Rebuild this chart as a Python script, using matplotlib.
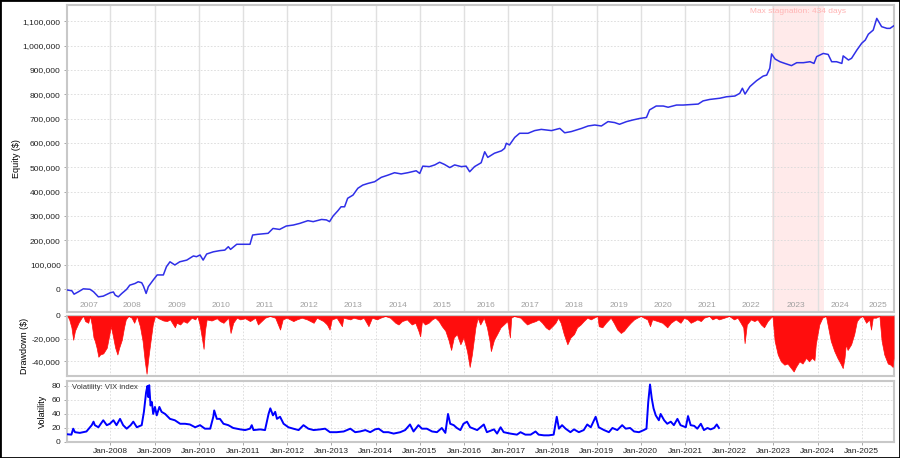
import matplotlib
matplotlib.use("Agg")
import matplotlib.pyplot as plt
from matplotlib.patches import Rectangle
from matplotlib.ticker import FuncFormatter, MultipleLocator

plt.rcParams["font.family"] = ["Liberation Sans", "DejaVu Sans"]

# equity curve, decimal years / thousands of $
eq_year = [2007.03, 2007.13, 2007.18, 2007.28, 2007.39, 2007.54, 2007.62, 2007.73, 2007.84, 2008.00,
           2008.07, 2008.11, 2008.18, 2008.26, 2008.37, 2008.44, 2008.56, 2008.63, 2008.71, 2008.75,
           2008.81, 2008.86, 2008.97, 2009.06, 2009.20, 2009.27, 2009.35, 2009.46, 2009.57, 2009.73,
           2009.88, 2009.95, 2010.03, 2010.10, 2010.18, 2010.33, 2010.48, 2010.59, 2010.67, 2010.72,
           2010.86, 2011.01, 2011.16, 2011.22, 2011.34, 2011.57, 2011.68, 2011.83, 2011.98, 2012.14,
           2012.29, 2012.47, 2012.59, 2012.78, 2012.89, 2012.96, 2013.04, 2013.15, 2013.22, 2013.30,
           2013.37, 2013.49, 2013.60, 2013.71, 2013.83, 2013.98, 2014.13, 2014.28, 2014.43, 2014.58,
           2014.73, 2014.92, 2015.00, 2015.07, 2015.22, 2015.34, 2015.45, 2015.56, 2015.68, 2015.79,
           2015.94, 2016.05, 2016.13, 2016.24, 2016.39, 2016.47, 2016.54, 2016.69, 2016.85, 2016.92,
           2016.96, 2017.03, 2017.15, 2017.26, 2017.45, 2017.60, 2017.75, 2017.98, 2018.17, 2018.28,
           2018.43, 2018.66, 2018.81, 2018.96, 2019.11, 2019.26, 2019.41, 2019.52, 2019.68, 2019.83,
           2019.98, 2020.13, 2020.20, 2020.35, 2020.51, 2020.62, 2020.81, 2020.96, 2021.19, 2021.30,
           2021.41, 2021.56, 2021.79, 2021.94, 2022.13, 2022.24, 2022.30, 2022.36, 2022.47, 2022.62,
           2022.77, 2022.85, 2022.92, 2022.96, 2023.04, 2023.15, 2023.26, 2023.41, 2023.53, 2023.68,
           2023.83, 2023.92, 2023.98, 2024.13, 2024.24, 2024.32, 2024.43, 2024.55, 2024.58, 2024.70,
           2024.77, 2024.89, 2025.00, 2025.08, 2025.15, 2025.26, 2025.34, 2025.45, 2025.57, 2025.64,
           2025.72]
eq_k = [-4, -7, -21, -11, 1, -1, -11, -32, -29, -15,
        -12, -25, -32, -18, -1, 16, 23, 30, 26, 12,
        -18, 10, 37, 58, 58, 92, 112, 99, 112, 119,
        136, 133, 140, 119, 144, 153, 158, 160, 174, 163,
        184, 184, 184, 222, 225, 229, 249, 245, 259, 263,
        270, 281, 277, 286, 284, 277, 300, 322, 338, 338,
        373, 386, 414, 427, 434, 441, 459, 468, 478, 473,
        478, 486, 475, 505, 503, 510, 521, 512, 499, 510,
        503, 505, 482, 503, 519, 564, 541, 558, 568, 578,
        599, 592, 623, 640, 640, 651, 656, 651, 660, 642,
        647, 660, 670, 674, 670, 688, 684, 677, 688, 695,
        701, 705, 736, 752, 752, 747, 756, 756, 759, 760,
        773, 779, 784, 790, 793, 804, 825, 801, 832, 856,
        875, 879, 907, 966, 945, 934, 927, 918, 930, 930,
        934, 927, 955, 968, 964, 934, 934, 927, 958, 941,
        948, 982, 1010, 1023, 1047, 1064, 1112, 1078, 1071, 1071,
        1081]

# drawdown, thousands of $
dd_year = [2007.03, 2007.07, 2007.12, 2007.16, 2007.20, 2007.28, 2007.35, 2007.39, 2007.43, 2007.50,
           2007.54, 2007.58, 2007.62, 2007.65, 2007.69, 2007.73, 2007.77, 2007.84, 2007.92, 2007.98,
           2008.01, 2008.05, 2008.11, 2008.16, 2008.20, 2008.26, 2008.31, 2008.35, 2008.41, 2008.48,
           2008.54, 2008.60, 2008.67, 2008.73, 2008.78, 2008.82, 2008.86, 2008.91, 2008.96, 2009.01,
           2009.09, 2009.20, 2009.28, 2009.35, 2009.46, 2009.50, 2009.58, 2009.65, 2009.73, 2009.84,
           2009.92, 2009.97, 2010.02, 2010.07, 2010.11, 2010.14, 2010.18, 2010.29, 2010.41, 2010.48,
           2010.56, 2010.67, 2010.72, 2010.78, 2010.86, 2010.94, 2011.05, 2011.16, 2011.28, 2011.34,
           2011.42, 2011.50, 2011.61, 2011.73, 2011.84, 2011.90, 2011.99, 2012.14, 2012.22, 2012.33,
           2012.45, 2012.60, 2012.67, 2012.82, 2012.90, 2012.96, 2013.01, 2013.12, 2013.24, 2013.27,
           2013.43, 2013.50, 2013.65, 2013.73, 2013.84, 2013.92, 2014.03, 2014.11, 2014.22, 2014.33,
           2014.45, 2014.52, 2014.60, 2014.71, 2014.82, 2014.90, 2014.97, 2015.01, 2015.05, 2015.12,
           2015.20, 2015.28, 2015.35, 2015.43, 2015.50, 2015.58, 2015.65, 2015.71, 2015.77, 2015.84,
           2015.92, 2015.99, 2016.07, 2016.13, 2016.18, 2016.22, 2016.26, 2016.31, 2016.37, 2016.45,
           2016.52, 2016.58, 2016.61, 2016.68, 2016.75, 2016.83, 2016.90, 2016.98, 2017.04, 2017.07,
           2017.13, 2017.28, 2017.35, 2017.43, 2017.51, 2017.62, 2017.69, 2017.77, 2017.85, 2017.92,
           2018.00, 2018.07, 2018.13, 2018.19, 2018.26, 2018.34, 2018.41, 2018.49, 2018.56, 2018.64,
           2018.71, 2018.79, 2018.87, 2018.94, 2019.02, 2019.05, 2019.13, 2019.21, 2019.32, 2019.39,
           2019.47, 2019.55, 2019.62, 2019.70, 2019.77, 2019.85, 2019.92, 2020.00, 2020.07, 2020.15,
           2020.21, 2020.26, 2020.38, 2020.49, 2020.60, 2020.68, 2020.79, 2020.90, 2020.98, 2021.06,
           2021.13, 2021.21, 2021.28, 2021.36, 2021.43, 2021.55, 2021.62, 2021.70, 2021.77, 2021.89,
           2022.00, 2022.11, 2022.19, 2022.26, 2022.32, 2022.35, 2022.40, 2022.49, 2022.57, 2022.64,
           2022.72, 2022.79, 2022.87, 2022.94, 2022.98, 2023.03, 2023.10, 2023.17, 2023.25, 2023.32,
           2023.40, 2023.46, 2023.51, 2023.59, 2023.66, 2023.74, 2023.81, 2023.87, 2023.93, 2023.96,
           2024.00, 2024.04, 2024.11, 2024.19, 2024.24, 2024.30, 2024.38, 2024.45, 2024.52, 2024.57,
           2024.61, 2024.64, 2024.68, 2024.76, 2024.83, 2024.89, 2024.95, 2025.02, 2025.10, 2025.17,
           2025.21, 2025.25, 2025.32, 2025.40, 2025.45, 2025.51, 2025.59, 2025.65, 2025.70, 2025.72]
dd_k = [0, -3, -10, -21, -13, -6, -1.5, 0, -4.5, -6,
        0, -7.5, -19, -22, -28, -36, -34, -33, -28, -16,
        -9, -16, -28, -34, -28, -21, -10, -3, 0, -1.5,
        -6, 0, -9, -22, -40, -51, -37, -22, -7.5, 0,
        -2, -4, -4.5, -3, -10, -6, -7.5, -4.5, -6, -1.5,
        -3, 0, -7.5, -19, -29, -13, -3, -4, -2, -4.5,
        -6, -1.5, -15, -6, -1.5, -3, -2, -4.5, -1.5, -7.5,
        -4.5, -1.5, 0, -1.5, -12, -3, -1.5, -4.5, -3, -1.5,
        -3, -6, -1.5, -4.5, -7.5, -12, -3, -1.5, -9, -1.5,
        -3, -1.5, -3, -1.5, -9, -1.5, -3, -1.5, 0, -1.5,
        -6, -7.5, -4.5, -3, -7.5, -6, -13, -18, -4.5, -7.5,
        -6, -3, -1.5, -4.5, -9, -13, -21, -30, -19, -16,
        -25, -19, -31, -45, -34, -22, -10, -1.5, -7.5, -1.5,
        -10, -22, -31, -21, -16, -10, -7.5, -4.5, -19, -1.5,
        0, -1.5, -4.5, -7.5, -6, -4.5, -3, -6, -10, -12,
        -9, -6, -1.5, -6, -16, -25, -19, -16, -10, -7.5,
        -4.5, -1.5, -3, -1.5, 0, -9, -10, -6, -1.5, -6,
        -12, -15, -13, -9, -6, -3, -1.5, 0, -1.5, -3,
        -9, -3, -4.5, -6, -10, -6, -3, -6, -1.5, -3,
        -6, -4.5, -3, -4.5, -1.5, 0, -3, -1.5, -3, -1.5,
        0, -3, -1.5, -6, -10, -24, -7.5, -3, -4.5, -3,
        -7.5, -10, -4.5, -1.5, 0, -22, -34, -40, -43, -42,
        -46, -49, -45, -40, -42, -37, -40, -37, -39, -25,
        -16, -7.5, -1.5, 0, -10, -22, -31, -37, -42, -46,
        -37, -25, -30, -25, -16, -4.5, -1.5, 0, -6, -3,
        -12, -1.5, -1.5, 0, -22, -34, -42, -43, -45, -37]

# VIX index
vix_year = [2007.03, 2007.12, 2007.16, 2007.20, 2007.31, 2007.46, 2007.58, 2007.62, 2007.65, 2007.73,
            2007.84, 2007.92, 2007.99, 2008.07, 2008.14, 2008.22, 2008.29, 2008.37, 2008.46, 2008.52,
            2008.60, 2008.71, 2008.76, 2008.81, 2008.84, 2008.86, 2008.88, 2008.91, 2008.94, 2008.97,
            2009.01, 2009.05, 2009.11, 2009.16, 2009.24, 2009.35, 2009.46, 2009.58, 2009.69, 2009.80,
            2009.92, 2010.03, 2010.14, 2010.26, 2010.33, 2010.35, 2010.41, 2010.48, 2010.56, 2010.67,
            2010.78, 2010.94, 2011.05, 2011.16, 2011.20, 2011.24, 2011.39, 2011.50, 2011.58, 2011.62,
            2011.68, 2011.73, 2011.77, 2011.84, 2011.92, 2012.03, 2012.14, 2012.26, 2012.37, 2012.48,
            2012.60, 2012.75, 2012.86, 2012.97, 2013.12, 2013.28, 2013.43, 2013.54, 2013.65, 2013.77,
            2013.88, 2013.99, 2014.07, 2014.18, 2014.29, 2014.41, 2014.56, 2014.67, 2014.78, 2014.86,
            2014.97, 2015.05, 2015.16, 2015.28, 2015.39, 2015.50, 2015.58, 2015.64, 2015.69, 2015.77,
            2015.84, 2015.92, 2015.99, 2016.07, 2016.14, 2016.30, 2016.45, 2016.52, 2016.68, 2016.75,
            2016.83, 2016.90, 2017.05, 2017.20, 2017.28, 2017.39, 2017.51, 2017.62, 2017.69, 2017.81,
            2017.92, 2018.03, 2018.10, 2018.15, 2018.22, 2018.30, 2018.41, 2018.49, 2018.60, 2018.71,
            2018.79, 2018.87, 2018.98, 2019.05, 2019.17, 2019.28, 2019.36, 2019.47, 2019.58, 2019.66,
            2019.76, 2019.85, 2019.96, 2020.07, 2020.13, 2020.17, 2020.21, 2020.25, 2020.29, 2020.34,
            2020.41, 2020.45, 2020.53, 2020.60, 2020.68, 2020.75, 2020.83, 2020.90, 2021.02, 2021.07,
            2021.13, 2021.21, 2021.28, 2021.36, 2021.43, 2021.51, 2021.58, 2021.66, 2021.72, 2021.77]
vix = [11, 10.5, 19, 14, 13, 15, 24, 29, 24, 21,
       31, 24, 26, 31, 24, 33, 24, 19, 24, 29,
       21, 24, 43, 71, 80, 64, 81, 52, 57, 40,
       50, 38, 50, 43, 40, 33, 31, 26, 26, 25,
       21, 24, 19, 19, 36, 45, 33, 33, 26, 24,
       20, 18, 17, 19, 24, 17, 18, 17, 40, 48,
       38, 43, 33, 36, 26, 21, 19, 17, 24, 19,
       17, 18, 19, 14, 14, 15, 19, 14, 15, 17,
       14, 18, 19, 14, 14, 12, 14, 17, 25, 15,
       24, 19, 19, 15, 14, 20, 13, 40, 26, 24,
       20, 17, 26, 29, 21, 17, 25, 14, 18, 12,
       21, 14, 12, 10.5, 14, 10.5, 10.5, 15, 10.5, 9.5,
       9.5, 10.5, 36, 19, 24, 19, 14, 18, 14, 17,
       25, 21, 36, 21, 17, 14, 20, 17, 24, 19,
       20, 15, 14, 17, 19, 57, 82, 62, 48, 38,
       31, 40, 31, 26, 29, 24, 33, 24, 21, 37,
       24, 23, 19, 26, 17, 20, 18, 20, 25, 20]

years = list(range(2007, 2026))
stag_start = 2022.96
stag_days = 434

x_min, x_max = 2007.02, 2025.73

fig = plt.figure(figsize=(9, 4.58), dpi=100)
ax1 = fig.add_axes([67 / 900, 146.3 / 458, 827 / 900, 306.7 / 458])
ax2 = fig.add_axes([67 / 900, 82 / 458, 827 / 900, 60 / 458])
ax3 = fig.add_axes([67 / 900, 16 / 458, 827 / 900, 61 / 458])

grid_kw = dict(color="#d9d9d9", lw=0.6, ls=(0, (2, 2)))
thousands = FuncFormatter(lambda v, p: f"{v:,.0f}")

for ax in (ax1, ax2, ax3):
    ax.set_xlim(x_min, x_max)
    ax.set_xticks(years[1:])
    for s in ax.spines.values():
        s.set_color("#c8c8c8")
        s.set_linewidth(1.5)
    ax.tick_params(labelsize=6, labelcolor="#222222", color="#999999", length=2.5, width=0.6, pad=2)

# equity panel
stag_end = stag_start + stag_days / 365.25
ax1.axvspan(stag_start, stag_end, color="#ffeaea", lw=0, zorder=0)
for yr in years[1:]:
    ax1.axvline(yr, color="#e0e0e0", lw=1.0, zorder=1)
ax1.plot(eq_year, [v * 1000 for v in eq_k], color="#2f2fe8", lw=1.1, zorder=3)
ax1.set_ylim(-93000, 1167000)
ax1.yaxis.set_major_locator(MultipleLocator(100000))
ax1.yaxis.set_major_formatter(thousands)
ax1.grid(axis="y", **grid_kw)
ax1.tick_params(axis="x", bottom=False, labelbottom=False)
ax1.set_ylabel("Equity ($)", fontsize=6.5)
ax1.yaxis.set_label_coords(-0.056, 0.5)
for yr in years:
    lo, hi = max(yr, x_min), min(yr + 1, x_max)
    ax1.text((lo + hi) / 2, 0.01, str(yr), transform=ax1.get_xaxis_transform(),
             ha="center", va="bottom", fontsize=6, color="#a0a0a0")
ax1.text((stag_start + stag_end) / 2, 0.98, f"Max stagnation: {stag_days} days",
         transform=ax1.get_xaxis_transform(), ha="center", va="center", fontsize=6, color="#ffb4b4")

# drawdown panel
ax2.fill_between(dd_year, [v * 1000 for v in dd_k], 0, color="#ff0d0d", lw=0.5, zorder=3)
ax2.set_ylim(-53000, 0)
ax2.set_yticks([0, -20000, -40000])
ax2.yaxis.set_major_formatter(thousands)
ax2.grid(**grid_kw)
ax2.tick_params(axis="x", bottom=False, labelbottom=False)
ax2.set_ylabel("Drawdown ($)", fontsize=6.5)
ax2.yaxis.set_label_coords(-0.046, 0.5)

# volatility panel
ax3.plot(vix_year, vix, color="#0000ff", lw=1.4, zorder=3)
ax3.set_ylim(0, 87)
ax3.set_yticks([0, 20, 40, 60, 80])
ax3.set_xticklabels([f"Jan-{yr}" for yr in years[1:]])
ax3.grid(**grid_kw)
ax3.set_ylabel("Volatility", fontsize=6.5)
ax3.yaxis.set_label_coords(-0.024, 0.5)
ax3.text(0.006, 0.95, "Volatility: VIX index", transform=ax3.transAxes,
         ha="left", va="top", fontsize=5.5, color="#333333")

fig.patches.append(Rectangle((0, 0), 1, 1, transform=fig.transFigure, fill=False,
                             edgecolor="black", lw=2.0))

fig.savefig("out.png", dpi=100)
